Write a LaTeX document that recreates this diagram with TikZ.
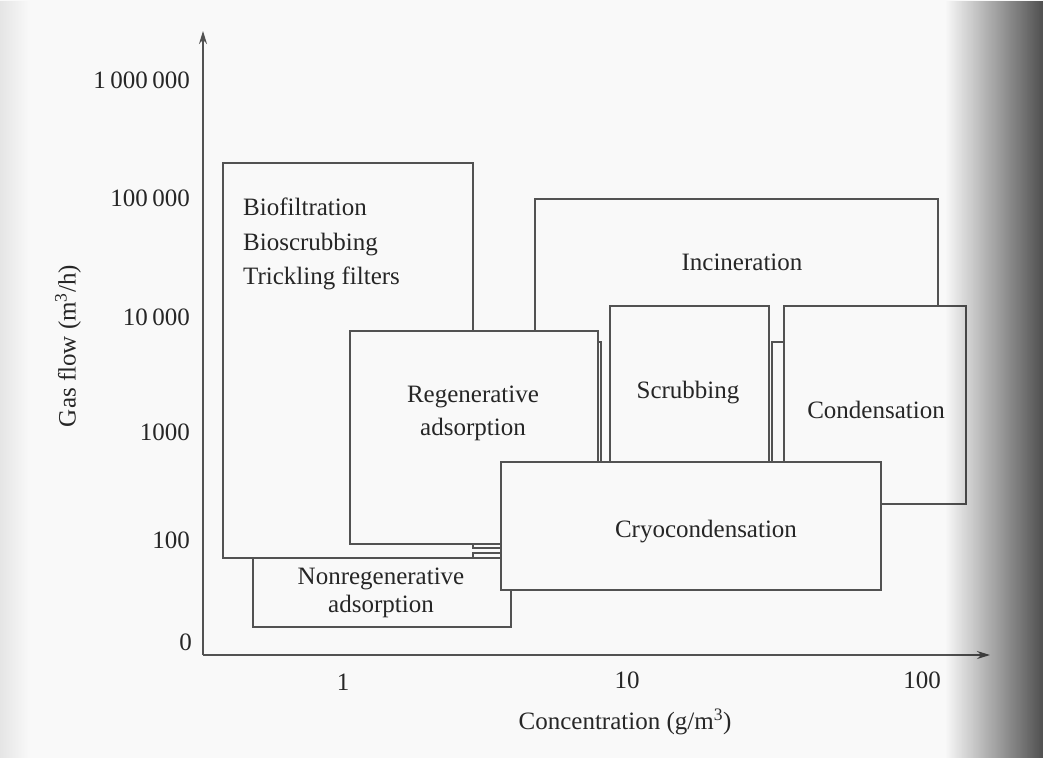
\documentclass[tikz,border=0pt]{standalone}
\usepackage{fontspec}
\setmainfont{Liberation Serif}
\usetikzlibrary{arrows.meta,fadings}
\definecolor{bg}{gray}{0.975}
\definecolor{linec}{gray}{0.32}
\definecolor{txtc}{gray}{0.15}
\tikzfading[name=rightdark, left color=transparent!100, right color=transparent!0]
\tikzfading[name=leftdark, left color=transparent!0, right color=transparent!100]
\begin{document}
\begin{tikzpicture}[x=1pt,y=-1pt,
  box/.style={draw=linec, line width=1.5pt, fill=bg, line join=miter},
  axis/.style={draw=linec, line width=1.5pt, -{Stealth[length=13pt,width=8pt]}},
  lbl/.style={text=txtc, inner sep=0pt, font=\fontsize{25}{30}\selectfont},
  tick/.style={lbl, anchor=east}]
% background
\fill[bg] (0,0) rectangle (1043,758);
\useasboundingbox (0,0) rectangle (1043,758);
% boxes, back to front
\draw[box] (223,163) -- (473,163) -- (473,548) -- (502,548) -- (502,553) -- (473,553) -- (473,558) -- (223,558) -- cycle;
\draw[box] (535,199) -- (938,199) -- (938,342) -- (772,342) -- (772,462) -- (601,462) -- (601,342) -- (535,342) -- cycle;
\draw[box] (253,558) rectangle (511,627);
\draw[box] (350,331) rectangle (598,544);
\draw[box] (610,306) rectangle (769,470);
\draw[box] (784,306) rectangle (966,504);
\draw[box] (501,462) rectangle (881,590);
% axes
\coordinate (O) at (203,655);
\coordinate (ytip) at (203,31);
\coordinate (xtip) at (990,655);
\draw[axis] (O) -- (ytip);
\draw[axis] (O) -- (xtip);
% box labels
\node[lbl, anchor=west, align=left, font=\fontsize{25}{34.5}\selectfont] (bio) at (243,244) {Biofiltration\\Bioscrubbing\\Trickling filters};
\node[lbl] (inc) at (742,262) {Incineration};
\node[lbl, align=center, font=\fontsize{25}{33}\selectfont] (regen) at (473,413) {Regenerative\\adsorption};
\node[lbl] (scrub) at (688,393) {Scrubbing};
\node[lbl] (cond) at (876,410) {Condensation};
\node[lbl] (cryo) at (706,532) {Cryocondensation};
\node[lbl, align=center, font=\fontsize{25}{28}\selectfont] (nonregen) at (381,593) {Nonregenerative\\adsorption};
% y ticks
\node[tick] (y6) at (190,80) {1\hspace{0.18em}000\hspace{0.18em}000};
\node[tick] (y5) at (190,198) {100\hspace{0.18em}000};
\node[tick] (y4) at (190,317) {10\hspace{0.18em}000};
\node[tick] (y3) at (190,432) {1000};
\node[tick] (y2) at (190,540) {100};
\node[tick] (y0) at (192,642) {0};
% x ticks
\node[lbl] (x1) at (343,682) {1};
\node[lbl] (x10) at (627,680) {10};
\node[lbl] (x100) at (922,680) {100};
% axis titles
\node[lbl] (xt) at (625,722) {Concentration (g/m\textsuperscript{3})};
\node[lbl, rotate=90] (yt) at (68,346) {Gas flow (m\textsuperscript{3}/h)};
% page shading
\fill[black, path fading=rightdark, fill opacity=0.68] (945,0) rectangle (1043,758);
\fill[black, path fading=leftdark, fill opacity=0.08] (0,0) rectangle (30,758);
\end{tikzpicture}
\end{document}
